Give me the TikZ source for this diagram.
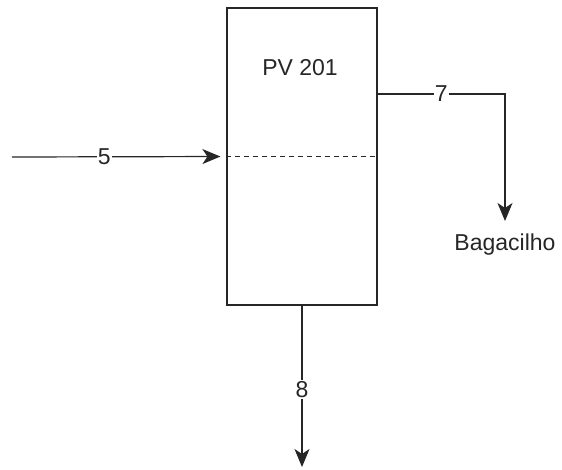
\documentclass[tikz,border=0pt]{standalone}
\usepackage{fontspec}
\setmainfont{Liberation Sans}
\usetikzlibrary{arrows.meta,positioning}

\begin{document}
\begin{tikzpicture}[
  x=1pt, y=-1pt,
  font=\fontsize{23}{27}\selectfont, >={Stealth[length=18pt, width=15pt, inset=5pt]},
  unit/.style={draw=black!85, line width=1.2pt, minimum width=150pt, minimum height=297pt, inner sep=0pt},
  flow/.style={->, line width=1.2pt, draw=black!85},
  lbl/.style={fill=white, inner sep=1pt, text=black!85},
]
\useasboundingbox (0,0) rectangle (562,469);
% vessel
\node[unit] (pv) at (302,156.5) {};
\node[text=black!85] (pvname) at (300,68) {PV 201};
\draw[line width=1.2pt, draw=black!85, dashed, dash pattern=on 5pt off 4pt] (pv.west) -- (pv.east);
% streams
\coordinate (feed) at (12,157);
\coordinate (top7) at (505,94);
\coordinate (tip7) at (505,221);
\coordinate (out8) at (302,467);
\node[text=black!85] (bag) at (505,245) {Bagacilho};
\draw[flow, shorten >=6pt] (feed) -- node[lbl, pos=0.43] {5} (pv.west);
\draw[flow] (pv.east |- top7) -| node[lbl, pos=0.25] {7} (tip7);
\draw[flow] (pv.south) -- node[lbl, pos=0.52] {8} (out8);
\end{tikzpicture}
\end{document}
